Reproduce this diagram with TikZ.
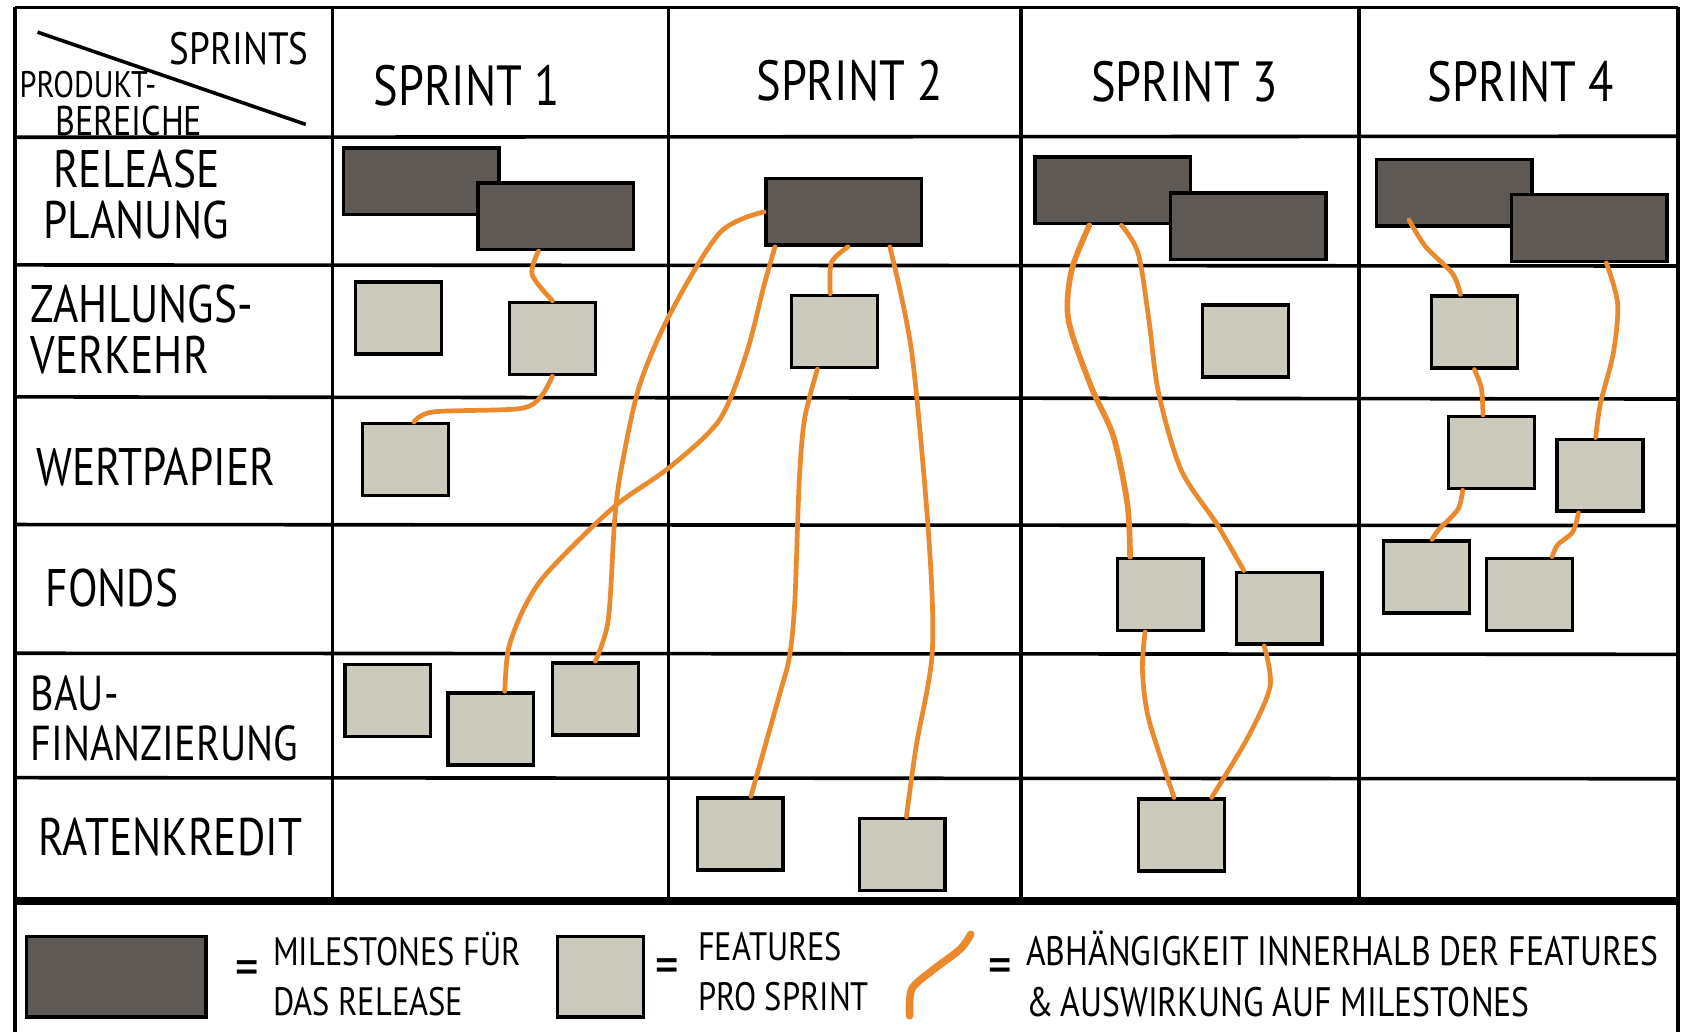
\documentclass[tikz,border=0pt]{standalone}
\usepackage{fontspec}
\setmainfont{PT Sans}[FakeStretch=0.82]
\usepackage{tikz}
\definecolor{milegray}{HTML}{5E5955}
\definecolor{featgray}{HTML}{CCC9BD}
\definecolor{deporange}{HTML}{EA8A2C}
\tikzstyle{gridline} = [draw=black, line width=0.95pt]
\tikzstyle{milestone} = [draw=black, fill=milegray, line width=0.9pt, minimum width=1.45cm, minimum height=0.62cm, inner sep=0pt]
\tikzstyle{feature} = [draw=black, fill=featgray, line width=0.9pt, minimum width=0.8cm, minimum height=0.67cm, inner sep=0pt]
\tikzstyle{dep} = [draw=deporange, line width=1.25pt, line cap=round]
\tikzstyle{head} = [font=\fontsize{15}{15}\selectfont, inner sep=0pt]
\tikzstyle{area} = [anchor=west, align=left, inner sep=0pt, font=\fontsize{14}{13.5}\selectfont]
\tikzstyle{legend} = [anchor=west, align=left, inner sep=0pt, font=\fontsize{10.5}{13.2}\selectfont]

\begin{document}
\begin{tikzpicture}[x=0.01cm,y=-0.01cm]
    \useasboundingbox[fill=white] (0,0) rectangle (1568,962);
    \draw[gridline] (14,7) -- (1564,7);
    \draw[gridline] (14,128) -- (1564,127);
    \draw[gridline] (14,247) -- (1564,248);
    \draw[gridline] (14,370) -- (1564,372);
    \draw[gridline] (14,489) -- (1564,490);
    \draw[gridline] (14,609) -- (1564,610);
    \draw[gridline] (14,725) -- (1564,726);
    \draw[gridline, line width=2.2pt] (14,840) -- (1564,840);
    \draw[gridline] (14,7) -- (14,962);
    \draw[gridline] (1564,7) -- (1564,962);
    \draw[gridline] (310,7) -- (310,840);
    \draw[gridline] (623,7) -- (623,840);
    \draw[gridline] (952,7) -- (952,840);
    \draw[gridline] (1267,7) -- (1267,840);
    \draw[gridline] (35,30) -- (285,116);

    \node[head, font=\fontsize{12}{12}\selectfont](csprints) at (223,45){SPRINTS};
    \node[head, font=\fontsize{9.8}{9.8}\selectfont](cprod) at (82,79){PRODUKT-};
    \node[head, font=\fontsize{11}{11}\selectfont](cber) at (120,113){BEREICHE};
    \node[head](s1) at (435,80){SPRINT 1};
    \node[head](s2) at (792,75){SPRINT 2};
    \node[head](s3) at (1104,76){SPRINT 3};
    \node[head](s4) at (1418,76){SPRINT 4};

    \node[area](lrel) at (40,181){\hspace{2.5pt}RELEASE\\PLANUNG};
    \node[area](lzahl) at (28,307){ZAHLUNGS-\\VERKEHR};
    \node[area](lwert) at (33,435){WERTPAPIER};
    \node[area](lfonds) at (42,548){FONDS};
    \node[area, font=\fontsize{13}{13.2}\selectfont](lbau) at (28,670){BAU-\\FINANZIERUNG};
    \node[area](lraten) at (35,780){RATENKREDIT};

    \node[milestone](m1a) at (392.5,169){};
    \node[milestone](m1b) at (518,201.5){};
    \node[milestone](m2) at (786.5,197.5){};
    \node[milestone](m3a) at (1037.5,177.5){};
    \node[milestone](m3b) at (1163.5,211){};
    \node[milestone](m4a) at (1355.5,179.5){};
    \node[milestone](m4b) at (1481.5,212.5){};

    \node[feature](z1a) at (371.5,296.5){};
    \node[feature](z1b) at (515,315.5){};
    \node[feature](w1) at (378,428.5){};
    \node[feature](b1a) at (361.5,653){};
    \node[feature](b1b) at (457.5,679.5){};
    \node[feature](b1c) at (555,651.5){};
    \node[feature](z2) at (778,309){};
    \node[feature](r2a) at (690,777.5){};
    \node[feature](r2b) at (841,796.5){};
    \node[feature](z3) at (1161,318){};
    \node[feature](f3a) at (1081.5,554){};
    \node[feature](f3b) at (1192.5,567){};
    \node[feature](r3) at (1101.5,778.5){};
    \node[feature](z4) at (1374.5,309.5){};
    \node[feature](w4a) at (1390.5,422){};
    \node[feature](w4b) at (1491.5,443){};
    \node[feature](f4a) at (1330,538){};
    \node[feature](f4b) at (1426,554){};

    \draw[dep] plot[smooth] coordinates {([shift={(-16,0)}]m1b.south) (496,256) (z1b.north)};
    \draw[dep] plot[smooth] coordinates {(z1b.south) (504,370) (484,381) (404,384) ([shift={(8,0)}]w1.north)};
    \draw[dep] plot[smooth] coordinates {(m2.west) (671,217) (625,292) (596,360) (579,438) (573,485) (567,578) (b1c.north)};
    \draw[dep] plot[smooth] coordinates {([shift={(-64,0)}]m2.south) (712,267) (696,329) (671,391) (625,435) (578,468) (540,503) (505,540) (487,570) (474,605) ([shift={(13,0)}]b1b.north)};
    \draw[dep] plot[smooth] coordinates {([shift={(4,0)}]m2.south) (775,245) ([shift={(-4,0)}]z2.north)};
    \draw[dep] plot[smooth] coordinates {([shift={(-16,0)}]z2.south) (750,391) (745,450) (741,560) (736,612) (726,650) ([shift={(10,0)}]r2a.north)};
    \draw[dep] plot[smooth] coordinates {([shift={(43,0)}]m2.south) (850,329) (866,503) (869,609) (854,696) ([shift={(4,0)}]r2b.north)};
    \draw[dep, line width=1.5pt] plot[smooth] coordinates {([shift={(-22,0)}]m3a.south) (999,252) (996,298) (1017,360) (1038,407) (1051,470) ([shift={(-28,0)}]f3a.north)};
    \draw[dep] plot[smooth] coordinates {([shift={(8,0)}]m3a.south) (1061,236) (1071,298) (1080,366) (1101,438) (1134,488) ([shift={(-33,0)}]f3b.north)};
    \draw[dep] plot[smooth] coordinates {([shift={(-14,0)}]f3a.south) (1065,625) (1071,671) ([shift={(-7,0)}]r3.north)};
    \draw[dep] plot[smooth] coordinates {([shift={(-14,0)}]f3b.south) (1184,640) (1163,688) ([shift={(28,0)}]r3.north)};
    \draw[dep] plot[smooth] coordinates {([shift={(-42,-7)}]m4a.south) (1329,230) (1354,255) ([shift={(-13,0)}]z4.north)};
    \draw[dep] plot[smooth] coordinates {(z4.south) (1381,362) ([shift={(-8,0)}]w4a.north)};
    \draw[dep] plot[smooth] coordinates {([shift={(16,0)}]m4b.south) (1508,283) (1504,329) (1492,376) ([shift={(-4,0)}]w4b.north)};
    \draw[dep] plot[smooth] coordinates {([shift={(-27,0)}]w4a.south) (1359,475) (1341,494) ([shift={(5,0)}]f4a.north)};
    \draw[dep] plot[smooth] coordinates {([shift={(-20,0)}]w4b.south) (1466,496) (1452,508) ([shift={(21,0)}]f4b.north)};

    \node[milestone, minimum width=1.67cm, minimum height=0.75cm](lm) at (108.5,910.5){};
    \node[head](eq1) at (230,908){=};
    \node[legend](tm) at (254,908){MILESTONES FÜR\\DAS RELEASE};
    \node[feature, minimum height=0.75cm](lf) at (560,910.5){};
    \node[head](eq2) at (622,906){=};
    \node[legend](tf) at (650,906){FEATURES\\PRO SPRINT};
    \draw[dep, line width=2pt] plot[smooth] coordinates {(848,947) (850,922) (870,904) (895,885) (905,871)};
    \node[head](eq3) at (932,906){=};
    \node[legend, font=\fontsize{10.9}{13.6}\selectfont](td) at (956,908){ABHÄNGIGKEIT INNERHALB DER FEATURES\\\&\,AUSWIRKUNG AUF MILESTONES};
\end{tikzpicture}
\end{document}
